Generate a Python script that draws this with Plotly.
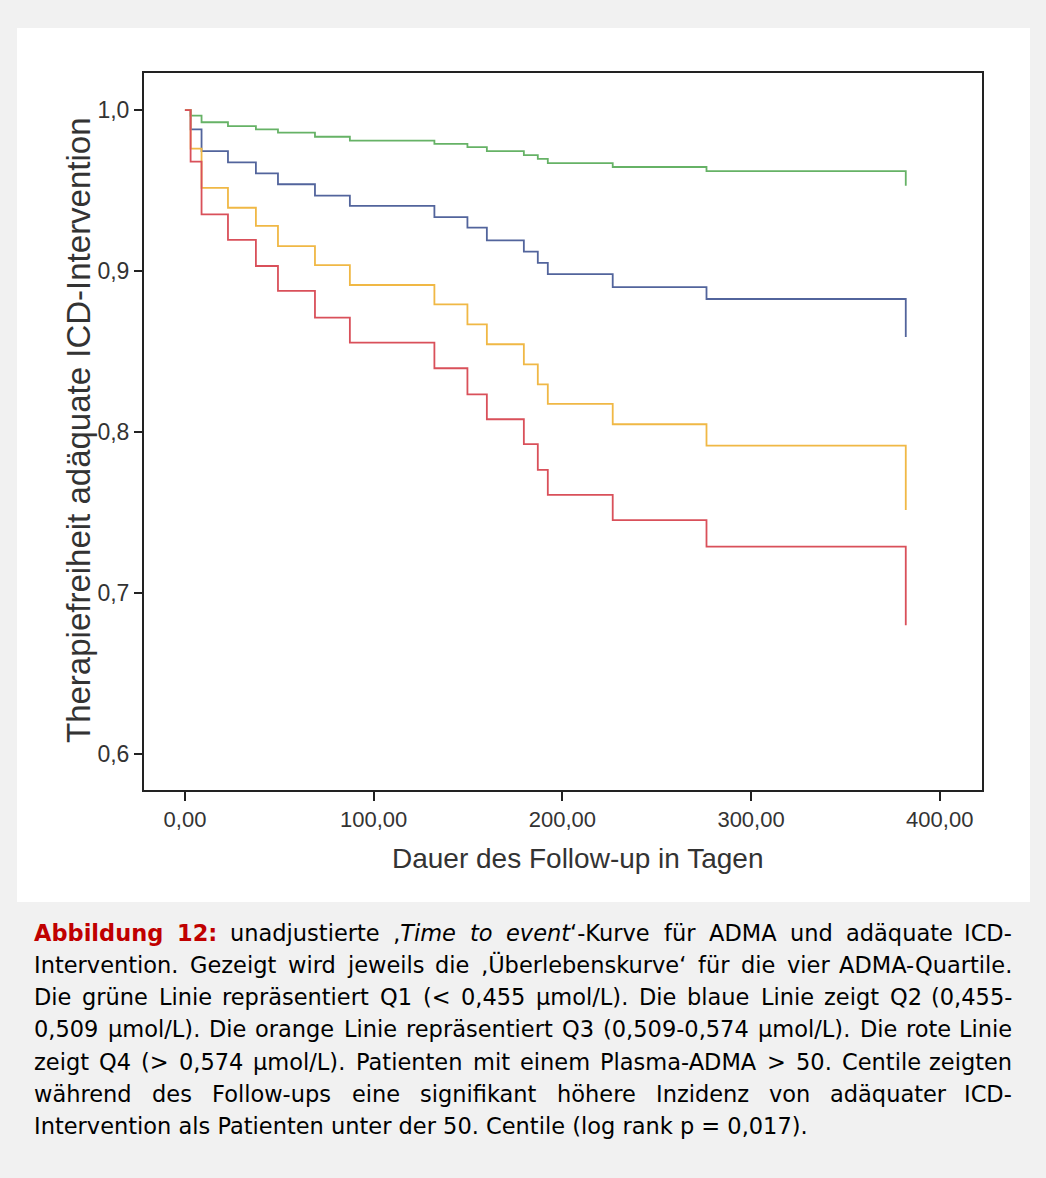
import html
import plotly.graph_objects as go

# ---- data ----
days = [0, 3.0, 8.8, 22.8, 37.6, 49.3, 68.9, 87.4, 132.2, 149.7, 160.0, 179.6, 187.0, 192.3, 226.7, 276.4, 382.0]

q1_green = [1.0, 0.9965, 0.9924, 0.990, 0.988, 0.986, 0.9834, 0.981, 0.979, 0.977, 0.9745, 0.972, 0.9696, 0.967, 0.9646, 0.962, 0.953]
q2_blue = [1.0, 0.988, 0.9745, 0.9675, 0.9607, 0.9539, 0.9468, 0.9404, 0.9335, 0.927, 0.919, 0.912, 0.905, 0.898, 0.890, 0.8826, 0.859]
q3_orange = [1.0, 0.976, 0.9517, 0.9393, 0.928, 0.9155, 0.9037, 0.8913, 0.8793, 0.8669, 0.8545, 0.842, 0.8296, 0.8174, 0.8048, 0.7915, 0.7516]
q4_red = [1.0, 0.9679, 0.9352, 0.9193, 0.9031, 0.8876, 0.871, 0.8555, 0.8396, 0.8234, 0.8079, 0.7924, 0.7764, 0.7609, 0.7453, 0.7288, 0.680]

x_ticks = [0, 100, 200, 300, 400]
x_tick_labels = ["0,00", "100,00", "200,00", "300,00", "400,00"]
y_ticks = [0.6, 0.7, 0.8, 0.9, 1.0]
y_tick_labels = ["0,6", "0,7", "0,8", "0,9", "1,0"]

x_title = "Dauer des Follow-up in Tagen"
y_title = "Therapiefreiheit adäquate ICD-Intervention"

caption_label = "Abbildung 12:"
caption_lines = [
    "unadjustierte ‚Time to event‘-Kurve für ADMA und adäquate ICD-",
    "Intervention. Gezeigt wird jeweils die ‚Überlebenskurve‘ für die vier ADMA-Quartile.",
    "Die grüne Linie repräsentiert Q1 (< 0,455 µmol/L). Die blaue Linie zeigt Q2 (0,455-",
    "0,509 µmol/L). Die orange Linie repräsentiert Q3 (0,509-0,574 µmol/L). Die rote Linie",
    "zeigt Q4 (> 0,574 µmol/L). Patienten mit einem Plasma-ADMA > 50. Centile zeigten",
    "während des Follow-ups eine signifikant höhere Inzidenz von adäquater ICD-",
    "Intervention als Patienten unter der 50. Centile (log rank p = 0,017).",
]
italic_words = {"‚Time": "‚<i>Time</i>", "to": "<i>to</i>", "event‘-Kurve": "<i>event</i>‘-Kurve"}

# ---- layout geometry ----
W, H = 1046, 1178
L, R, T, B = 144, 982, 73, 790  # plot frame in pixels


def px(x):
    return (x - L) / (R - L)


def py(y):
    return (B - y) / (B - T)


series = [
    ("Q1", q1_green, "#66b266"),
    ("Q2", q2_blue, "#52649c"),
    ("Q3", q3_orange, "#f0b845"),
    ("Q4", q4_red, "#d9505a"),
]

fig = go.Figure()
for name, vals, col in series:
    fig.add_trace(go.Scatter(x=days, y=vals, mode="lines", name=name,
                             line=dict(color=col, width=1.8, shape="hv"),
                             showlegend=False))

axis_font = "Liberation Sans, Arial, sans-serif"

fig.update_layout(
    width=W, height=H,
    margin=dict(l=L, r=W - R, t=T, b=H - B, autoexpand=False),
    paper_bgcolor="#f1f1f1",
    plot_bgcolor="white",
    font=dict(family=axis_font, color="#333333"),
    xaxis=dict(range=[-21.7, 422.4], tickvals=x_ticks, ticktext=x_tick_labels,
               showgrid=False, zeroline=False, showline=True, mirror=True,
               linecolor="#222222", linewidth=2, ticks="outside", ticklen=9,
               tickwidth=2, tickcolor="#222222",
               tickfont=dict(size=22, color="#333333", family=axis_font)),
    yaxis=dict(range=[0.5776, 1.023], tickvals=y_ticks, ticktext=y_tick_labels,
               showgrid=False, zeroline=False, showline=True, mirror=True,
               linecolor="#222222", linewidth=2, ticks="outside", ticklen=8,
               tickwidth=2, tickcolor="#222222",
               tickfont=dict(size=23, color="#333333", family=axis_font)),
)

# white panel behind the chart
fig.add_shape(type="rect", xref="paper", yref="paper", layer="below",
              x0=px(17), x1=px(1030), y0=py(902), y1=py(28),
              fillcolor="white", line=dict(width=0))

# axis titles
fig.add_annotation(text=x_title, xref="paper", yref="paper", x=px(577), y=py(858),
                   xanchor="center", yanchor="middle", showarrow=False,
                   font=dict(size=28, color="#333333", family=axis_font))
fig.add_annotation(text=y_title, xref="paper", yref="paper", x=px(78), y=py(430),
                   xanchor="center", yanchor="middle", showarrow=False, textangle=-90,
                   font=dict(size=33, color="#333333", family=axis_font))

# ---- caption (justified text, word by word) ----
CAP_SIZE = 22.5
CAP_FONT = "DejaVu Sans, Verdana, sans-serif"
LEFT_X, RIGHT_X = 33, 1013

REG = {" ": 651, ",": 651, ".": 651, "-": 739, "(": 799, ")": 799, ":": 690, "/": 690,
       "<": 1716, ">": 1716, "=": 1716, "‚": 651, "‘": 651, "µ": 1300,
       "A": 1401, "B": 1405, "C": 1430, "D": 1577, "E": 1294, "F": 1178, "G": 1587, "H": 1540,
       "I": 604, "J": 604, "K": 1343, "L": 1141, "M": 1767, "N": 1532, "O": 1612, "P": 1235,
       "Q": 1612, "R": 1423, "S": 1300, "T": 1251, "U": 1499, "Ü": 1499, "V": 1401, "W": 2025,
       "a": 1255, "ä": 1255, "b": 1300, "c": 1126, "d": 1300, "e": 1260, "f": 721, "g": 1300,
       "h": 1298, "i": 569, "j": 569, "k": 1186, "l": 569, "m": 1995, "n": 1298, "o": 1253,
       "ö": 1253, "p": 1300, "q": 1300, "r": 842, "s": 1067, "t": 803, "u": 1298, "ü": 1298,
       "v": 1212, "w": 1675, "x": 1212, "y": 1212, "z": 1075}
for d in "0123456789":
    REG[d] = 1303
BOLD = {"A": 1585, "b": 1465, "i": 702, "l": 702, "d": 1465, "u": 1458, "n": 1458,
        "g": 1465, " ": 713, "1": 1425, "2": 1425, ":": 819}


def text_w(s, bold=False):
    tot = 0
    for ch in s:
        w = REG.get(ch, 1250)
        if bold:
            w = BOLD.get(ch, w * 1.13)
        tot += w
    return tot / 2048 * CAP_SIZE


line_y = [933, 965, 997, 1029, 1062, 1094, 1126]


def add_word(htm, x, anchor, yy):
    fig.add_annotation(text=htm, xref="paper", yref="paper", x=px(x), y=py(yy),
                       xanchor=anchor, yanchor="middle", showarrow=False,
                       borderpad=0, font=dict(size=CAP_SIZE, color="#000000", family=CAP_FONT))


for li, (txt, yy) in enumerate(zip(caption_lines, line_y)):
    words = []  # (html, width)
    if li == 0:
        for w in caption_label.split(" "):
            words.append(("<b><span style='color:#c00000'>%s</span></b>" % html.escape(w), text_w(w, True)))
    for w in txt.split(" "):
        h = italic_words.get(w, html.escape(w)) if li == 0 else html.escape(w)
        words.append((h, text_w(w)))
    if li == len(caption_lines) - 1:
        add_word(html.escape(txt), LEFT_X, "left", yy)
        continue
    total = sum(w for _, w in words)
    gap = (RIGHT_X - LEFT_X - total) / (len(words) - 1)
    x = LEFT_X
    for i, (h, w) in enumerate(words):
        if i == len(words) - 1:
            add_word(h, RIGHT_X, "right", yy)
        else:
            add_word(h, x, "left", yy)
        x += w + gap

fig.write_html("out.html")
